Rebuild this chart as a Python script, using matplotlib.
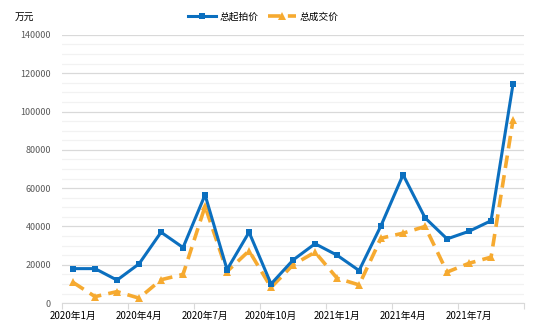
import matplotlib
matplotlib.use("Agg")
import matplotlib.pyplot as plt
import numpy as np

plt.rcParams['font.family'] = ['Noto Sans CJK SC', 'DejaVu Sans']

months = ['2020年1月', '2020年2月', '2020年3月', '2020年4月', '2020年5月', '2020年6月',
          '2020年7月', '2020年8月', '2020年9月', '2020年10月', '2020年11月', '2020年12月',
          '2021年1月', '2021年2月', '2021年3月', '2021年4月', '2021年5月', '2021年6月',
          '2021年7月', '2021年8月', '2021年9月']
start_price = [18000, 18000, 12000, 20500, 37000, 29000, 56500, 17500, 37000, 10000,
               22500, 31000, 25000, 17000, 40500, 67000, 44500, 33500, 37500, 43000, 114500]
deal_price = [10800, 3400, 6000, 2600, 12200, 15000, 50500, 16500, 27300, 8200,
              20000, 26600, 13000, 9500, 33900, 36500, 40000, 16200, 20800, 24000, 95800]

blue = '#0B6FBF'
orange = '#F6AA30'

x = np.arange(len(months))
fig = plt.figure(figsize=(5.54, 3.32), dpi=100)
ax = fig.add_axes([0.112, 0.087, 0.834, 0.808])

l1, = ax.plot(x, start_price, color=blue, lw=2.2, marker='s', ms=5, mew=0,
              label='总起拍价', zorder=3)
l2, = ax.plot(x, deal_price, color=orange, lw=2.6, ls=(0, (3.5, 2)), marker='^', ms=5.5,
              mew=0, label='总成交价', zorder=2)

ax.set_xlim(-0.5, len(months) - 0.5)
ax.set_ylim(0, 140000)
ax.set_yticks(np.arange(0, 140001, 20000))
ax.set_yticks(np.arange(0, 140001, 5000), minor=True)
ax.grid(axis='y', which='major', color='#d9d9d9', lw=0.9)
ax.grid(axis='y', which='minor', color='#f2f2f2', lw=0.9)
ax.set_axisbelow(True)
ax.tick_params(axis='y', which='both', length=0, labelsize=6.5, labelcolor='#595959', pad=8)

# ticks between categories, labels on categories
ax.set_xticks(np.arange(-0.5, len(months), 3))
ax.set_xticks(x[::3], minor=True)
ax.set_xticklabels([])
ax.set_xticklabels([months[i] for i in x[::3]], minor=True)
ax.tick_params(axis='x', which='major', length=4, color='#d9d9d9')
ax.tick_params(axis='x', which='minor', length=0, labelsize=7, pad=6)

for s in ['top', 'right', 'left']:
    ax.spines[s].set_visible(False)
ax.spines['bottom'].set_color('#d9d9d9')

fig.text(0.027, 0.95, '万元', fontsize=7, va='center')
fig.legend(handles=[l1, l2], loc='center', bbox_to_anchor=(0.475, 0.95), ncol=2,
           frameon=False, fontsize=7, handlelength=2.9, handletextpad=0.3,
           columnspacing=1.0)

fig.savefig('out.png', dpi=100)
